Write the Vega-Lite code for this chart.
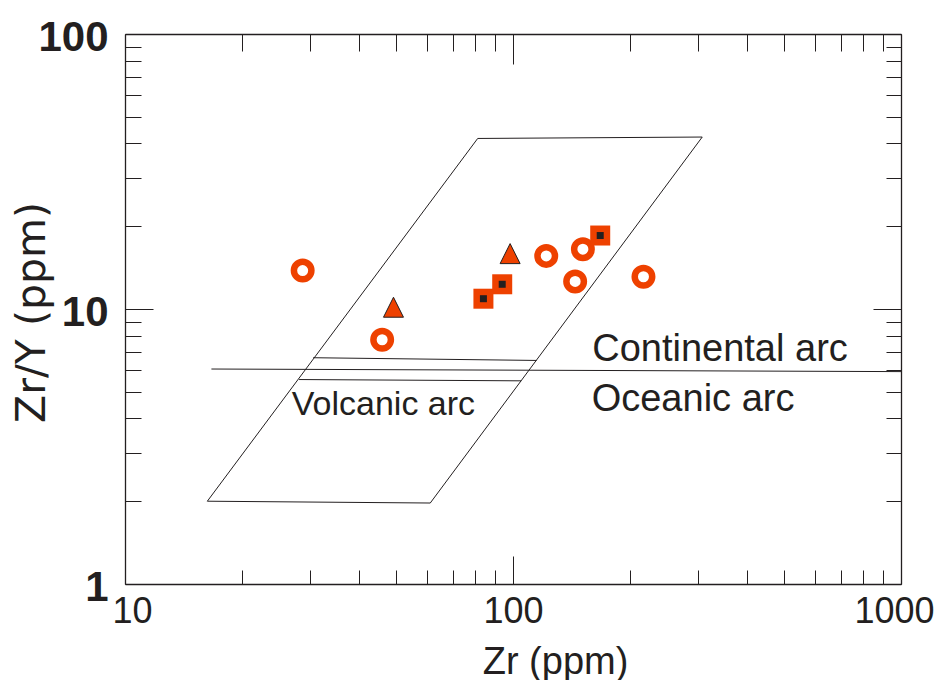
{
  "$schema": "https://vega.github.io/schema/vega-lite/v6.json",
  "width": 776,
  "height": 550,
  "autosize": {"type": "none"},
  "padding": {"left": 125, "top": 34, "right": 35, "bottom": 96},
  "background": "white",
  "config": {"view": {"stroke": null}, "font": "Liberation Sans"},
  "datasets": {
    "pts": [
      {"zr": 28.7, "zry": 13.8, "type": "circle"},
      {"zr": 46.0, "zry": 7.73, "type": "circle"},
      {"zr": 121.8, "zry": 15.6, "type": "circle"},
      {"zr": 151.4, "zry": 16.5, "type": "circle"},
      {"zr": 144.6, "zry": 12.6, "type": "circle"},
      {"zr": 216.9, "zry": 13.1, "type": "circle"},
      {"zr": 49.2, "zry": 10.15, "type": "triangle"},
      {"zr": 98.3, "zry": 15.9, "type": "triangle"},
      {"zr": 83.9, "zry": 10.9, "type": "square"},
      {"zr": 93.8, "zry": 12.3, "type": "square"},
      {"zr": 167.8, "zry": 18.5, "type": "square"}
    ],
    "lines": [
      {"seg": "para", "o": 0, "x": 16.3, "y": 2.0},
      {"seg": "para", "o": 1, "x": 61.2, "y": 1.97},
      {"seg": "para", "o": 2, "x": 307.4, "y": 42.2},
      {"seg": "para", "o": 3, "x": 81.1, "y": 41.7},
      {"seg": "para", "o": 4, "x": 16.3, "y": 2.0},
      {"seg": "arc", "o": 0, "x": 16.7, "y": 6.05},
      {"seg": "arc", "o": 1, "x": 1000, "y": 5.92},
      {"seg": "up", "o": 0, "x": 30.55, "y": 6.65},
      {"seg": "up", "o": 1, "x": 115.0, "y": 6.5},
      {"seg": "lo", "o": 0, "x": 28.1, "y": 5.54},
      {"seg": "lo", "o": 1, "x": 105.0, "y": 5.48}
    ],
    "texts": [
      {"tx": 160, "ty": 6.45, "t": "Continental arc"},
      {"tx": 159.5, "ty": 4.27, "t": "Oceanic arc"},
      {"tx": 26.9, "ty": 4.12, "t": "Volcanic arc"}
    ]
  },
  "layer": [
    {
      "data": {"name": "lines"},
      "mark": {"type": "line", "color": "#231f20", "strokeWidth": 1, "clip": true},
      "encoding": {
        "x": {
          "field": "x", "type": "quantitative",
          "scale": {"type": "log", "domain": [10, 1000], "nice": false},
          "axis": {
            "orient": "bottom",
            "values": [10, 20, 30, 40, 50, 60, 70, 80, 90, 100, 200, 300, 400, 500, 600, 700, 800, 900, 1000],
            "labelExpr": "datum.value == 10 || datum.value == 100 || datum.value == 1000 ? format(datum.value, 'd') : ''",
            "tickSize": {"condition": {"test": "datum.value == 10 || datum.value == 100 || datum.value == 1000", "value": -28}, "value": -14},
            "tickColor": "#231f20", "tickWidth": 1,
            "domainColor": "#231f20", "domainWidth": 1.3,
            "labelFont": "Liberation Sans", "labelFontSize": 36, "labelColor": "#231f20",
            "labelPadding": 38, "labelFlush": false, "labelOverlap": false, "labelBound": false,
            "labelOffset": {"condition": [{"test": "datum.value == 10", "value": 7}, {"test": "datum.value == 1000", "value": -7}], "value": 0},
            "grid": false,
            "title": "Zr (ppm)", "titleFont": "Liberation Sans", "titleFontSize": 38, "titleFontWeight": "normal",
            "titleColor": "#231f20", "titleX": 430, "titleY": 89, "titleBaseline": "alphabetic", "titleAlign": "center"
          }
        },
        "y": {
          "field": "y", "type": "quantitative",
          "scale": {"type": "log", "domain": [1, 100], "nice": false},
          "axis": {
            "orient": "left",
            "values": [1, 2, 3, 4, 5, 6, 7, 8, 9, 10, 20, 30, 40, 50, 60, 70, 80, 90, 100],
            "labelExpr": "datum.value == 1 || datum.value == 10 || datum.value == 100 ? format(datum.value, 'd') : ''",
            "tickSize": {"condition": {"test": "datum.value == 1 || datum.value == 10 || datum.value == 100", "value": -28}, "value": -16},
            "tickColor": "#231f20", "tickWidth": 1,
            "domainColor": "#231f20", "domainWidth": 1.3,
            "labelFont": "Liberation Sans", "labelFontWeight": "bold", "labelFontSize": 42, "labelColor": "#231f20",
            "labelPadding": 45, "labelFlush": false, "labelOverlap": false, "labelBound": false,
            "labelBaseline": "middle", "labelOffset": 3,
            "grid": false,
            "title": "Zr/Y (ppm)", "titleFont": "DejaVu Sans", "titleFontSize": 41, "titleFontWeight": "normal",
            "titleColor": "#231f20", "titleX": -81, "titleY": 278, "titleBaseline": "alphabetic", "titleAlign": "center", "titleAngle": -90
          }
        },
        "detail": {"field": "seg"},
        "order": {"field": "o"}
      }
    },
    {
      "data": {"name": "pts"},
      "transform": [{"filter": "datum.type == 'circle'"}],
      "mark": {"type": "point", "shape": "circle", "filled": false, "stroke": "#ee4100", "strokeWidth": 6.5, "size": 306, "opacity": 1},
      "encoding": {
        "x": {
          "field": "zr", "type": "quantitative",
          "axis": {
            "orient": "top",
            "values": [10, 20, 30, 40, 50, 60, 70, 80, 90, 100, 200, 300, 400, 500, 600, 700, 800, 900, 1000],
            "labels": false, "title": null, "grid": false,
            "tickSize": {"condition": {"test": "datum.value == 10 || datum.value == 100 || datum.value == 1000", "value": -30}, "value": -17},
            "tickColor": "#231f20", "tickWidth": 1,
            "domainColor": "#231f20", "domainWidth": 1.3
          }
        },
        "y": {
          "field": "zry", "type": "quantitative",
          "axis": {
            "orient": "right",
            "values": [1, 2, 3, 4, 5, 6, 7, 8, 9, 10, 20, 30, 40, 50, 60, 70, 80, 90, 100],
            "labels": false, "title": null, "grid": false,
            "tickSize": {"condition": {"test": "datum.value == 1 || datum.value == 10 || datum.value == 100", "value": -28}, "value": -15},
            "tickColor": "#231f20", "tickWidth": 1,
            "domainColor": "#231f20", "domainWidth": 1.3
          }
        }
      }
    },
    {
      "data": {"name": "pts"},
      "transform": [{"filter": "datum.type == 'square'"}],
      "mark": {"type": "point", "shape": "square", "filled": true, "fill": "#ee4100", "strokeWidth": 0, "size": 400, "opacity": 1},
      "encoding": {
        "x": {"field": "zr", "type": "quantitative", "axis": null},
        "y": {"field": "zry", "type": "quantitative", "axis": null}
      }
    },
    {
      "data": {"name": "pts"},
      "transform": [{"filter": "datum.type == 'square'"}],
      "mark": {"type": "point", "shape": "square", "filled": true, "fill": "#231f20", "strokeWidth": 0, "size": 49, "opacity": 1},
      "encoding": {
        "x": {"field": "zr", "type": "quantitative", "axis": null},
        "y": {"field": "zry", "type": "quantitative", "axis": null}
      }
    },
    {
      "data": {"name": "pts"},
      "transform": [{"filter": "datum.type == 'triangle'"}],
      "mark": {"type": "point", "shape": "M-1,1L1,1L0,-1Z", "filled": true, "fill": "#ee4100", "stroke": "#231f20", "strokeWidth": 1, "size": 400, "opacity": 1},
      "encoding": {
        "x": {"field": "zr", "type": "quantitative", "axis": null},
        "y": {"field": "zry", "type": "quantitative", "axis": null}
      }
    },
    {
      "data": {"name": "texts"},
      "transform": [{"filter": "datum.t != 'Volcanic arc'"}],
      "mark": {"type": "text", "align": "left", "baseline": "alphabetic", "font": "Liberation Sans", "fontSize": 38, "color": "#231f20"},
      "encoding": {
        "x": {"field": "tx", "type": "quantitative", "axis": null},
        "y": {"field": "ty", "type": "quantitative", "axis": null},
        "text": {"field": "t"}
      }
    },
    {
      "data": {"name": "texts"},
      "transform": [{"filter": "datum.t == 'Volcanic arc'"}],
      "mark": {"type": "text", "align": "left", "baseline": "alphabetic", "font": "Liberation Sans", "fontSize": 34, "color": "#231f20"},
      "encoding": {
        "x": {"field": "tx", "type": "quantitative", "axis": null},
        "y": {"field": "ty", "type": "quantitative", "axis": null},
        "text": {"field": "t"}
      }
    }
  ]
}
